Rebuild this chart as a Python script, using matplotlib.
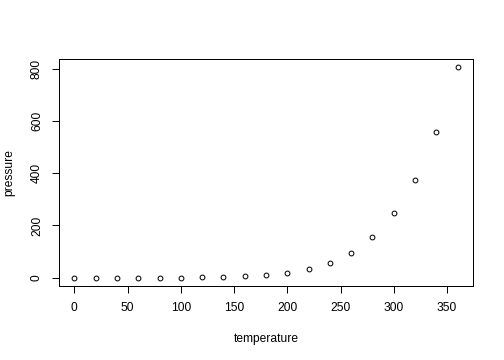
import matplotlib
matplotlib.use("Agg")
import matplotlib.pyplot as plt

temperature = [0, 20, 40, 60, 80, 100, 120, 140, 160, 180, 200, 220, 240, 260, 280, 300, 320, 340, 360]
pressure = [0.0002, 0.0012, 0.0060, 0.0300, 0.0900, 0.2700, 0.7500, 1.8500, 4.2000, 8.8000,
            17.3000, 32.1000, 57.0000, 96.0000, 157.0000, 247.0000, 376.0000, 558.0000, 806.0000]
xticks = [0, 50, 100, 150, 200, 250, 300, 350]
yticks = [0, 200, 400, 600, 800]

plt.rcParams['font.family'] = ['Liberation Sans', 'DejaVu Sans']
fig = plt.figure(figsize=(7, 5), dpi=72)
ax = fig.add_axes([59/504, 1-286/360, (473-59)/504, (286-59)/360])
ax.plot(temperature, pressure, linestyle='none', marker='o', markersize=4.8,
        markerfacecolor='none', markeredgecolor='black', markeredgewidth=1)
xr = max(temperature) - min(temperature)
yr = max(pressure) - min(pressure)
ax.set_xlim(min(temperature) - 0.04*xr, max(temperature) + 0.04*xr)
ax.set_ylim(min(pressure) - 0.04*yr, max(pressure) + 0.04*yr)
ax.set_xticks(xticks)
ax.set_yticks(yticks)
ax.set_yticklabels([str(v) for v in yticks], rotation=90, va='center')
ax.tick_params(length=7, width=1, labelsize=12, pad=9, color='black')
for s in ax.spines.values():
    s.set_linewidth(1)
ax.set_xlabel('temperature', fontsize=12, labelpad=19)
ax.set_ylabel('pressure', fontsize=12, labelpad=16)
fig.savefig('out.png', dpi=72)
